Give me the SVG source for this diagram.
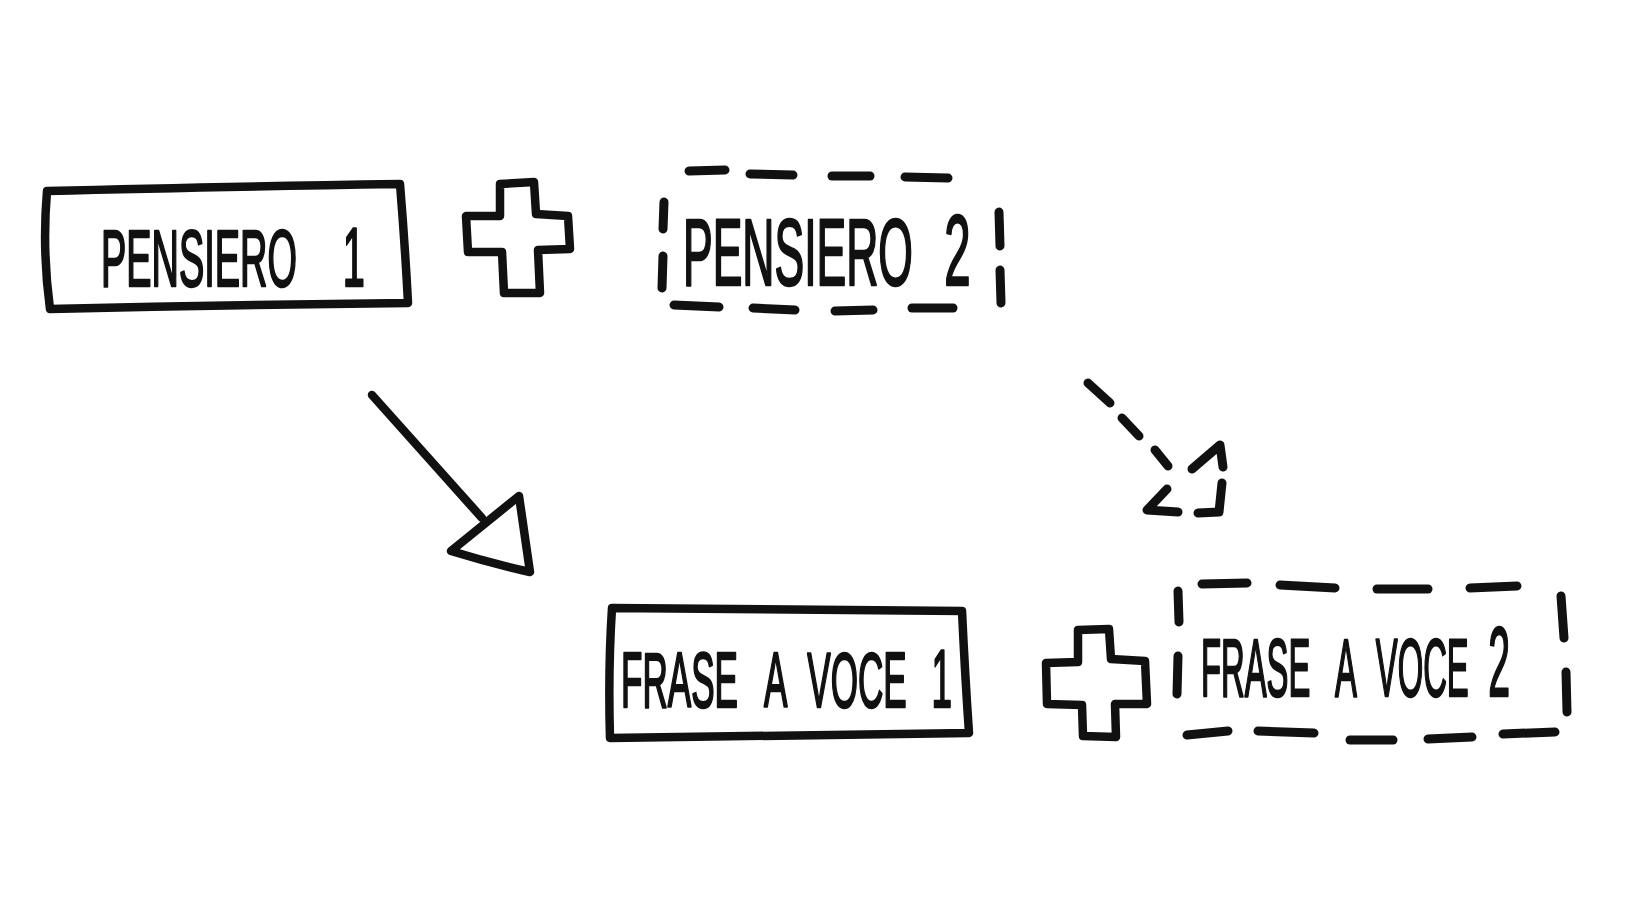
<svg xmlns="http://www.w3.org/2000/svg" width="1625" height="906" viewBox="0 0 1625 906">
<style>
.ink{fill:none;stroke:#111;stroke-width:8.5;stroke-linecap:round;stroke-linejoin:round}
.dash{fill:none;stroke:#111;stroke-width:9;stroke-linecap:round;stroke-linejoin:round}
.lbl{font-family:"Liberation Sans","DejaVu Sans",sans-serif;fill:#111;stroke:#111;stroke-width:2.5;stroke-linejoin:round;font-weight:normal}
</style>
<rect width="1625" height="906" fill="#fff"/>
<g id="pensiero1">
<path class="ink" d="M47,191 Q200,187 400,184 Q405,245 408,303 Q230,305 50,309 Q42,250 47,191 Z"/>
<text class="lbl" font-size="80" transform="translate(101,286) scale(0.474,1)"><tspan x="0">PENSIERO</tspan><tspan x="510" font-size="84">1</tspan></text>
</g>
<g id="plus1">
<path class="ink" d="M500,184 L534,182 L536,214 L568,216 L570,249 L538,250 L540,293 L504,293 L502,252 L468,252 L466,216 L500,216 Z"/>
</g>
<g id="pensiero2">
<g class="dash">
<line x1="689" y1="171" x2="725" y2="170"/><line x1="750" y1="174" x2="793" y2="175"/><line x1="832" y1="176" x2="870" y2="176"/><line x1="905" y1="177" x2="948" y2="178"/>
<line x1="664" y1="202" x2="663" y2="229"/><line x1="663" y1="256" x2="662" y2="288"/>
<line x1="999" y1="212" x2="1000" y2="246"/><line x1="1000" y1="270" x2="1001" y2="303"/>
<line x1="674" y1="305" x2="719" y2="307"/><line x1="753" y1="308" x2="795" y2="310"/><line x1="835" y1="311" x2="873" y2="310"/><line x1="912" y1="308" x2="953" y2="308"/>
</g>
<text class="lbl" font-size="94" transform="translate(683,285) scale(0.4735,1)"><tspan x="0">PENSIERO</tspan><tspan x="552" font-size="100">2</tspan></text>
</g>
<g id="frase1">
<path class="ink" d="M612,608 Q790,609 962,611 Q965,675 969,733 Q790,736 610,738 Q608,670 612,608 Z"/>
<text class="lbl" font-size="78" transform="translate(621,707) scale(0.45,1)"><tspan x="0">FRASE</tspan><tspan x="318">A</tspan><tspan x="414">VOCE</tspan><tspan x="690" font-size="82">1</tspan></text>
</g>
<g id="plus2">
<path class="ink" d="M1078,630 L1109,629 L1111,659 L1145,661 L1147,704 L1115,704 L1116,737 L1083,736 L1082,705 L1047,704 L1046,663 L1078,662 Z"/>
</g>
<g id="frase2">
<g class="dash">
<line x1="1202" y1="584" x2="1247" y2="583"/><line x1="1280" y1="585" x2="1335" y2="588"/><line x1="1377" y1="589" x2="1428" y2="589"/><line x1="1470" y1="588" x2="1517" y2="586"/>
<line x1="1178" y1="591" x2="1179" y2="622"/><line x1="1178" y1="656" x2="1177" y2="694"/>
<line x1="1561" y1="596" x2="1564" y2="638"/><line x1="1566" y1="672" x2="1567" y2="712"/>
<line x1="1187" y1="735" x2="1228" y2="731"/><line x1="1258" y1="731" x2="1314" y2="733"/><line x1="1350" y1="740" x2="1393" y2="740"/><line x1="1428" y1="739" x2="1472" y2="737"/><line x1="1503" y1="734" x2="1555" y2="732"/>
</g>
<text class="lbl" font-size="82" transform="translate(1201,696) scale(0.40,1)"><tspan x="0">FRASE</tspan><tspan x="335">A</tspan><tspan x="437">VOCE</tspan><tspan x="718" font-size="98">2</tspan></text>
</g>
<g id="connectors">
<line class="ink" x1="372" y1="395" x2="482" y2="518"/>
<path class="ink" d="M451,551 L519,496 L530,572 Q490,563 451,551 Z"/>
<g class="dash">
<line x1="1088" y1="383" x2="1110" y2="403"/><line x1="1122" y1="418" x2="1139" y2="436"/><line x1="1155" y1="450" x2="1168" y2="466"/>
<polyline points="1192,469 1220,445 1223,467"/>
<polyline points="1167,489 1147,510 1178,512"/>
<polyline points="1198,513 1219,512 1222,483"/>
</g>
</g>
</svg>
